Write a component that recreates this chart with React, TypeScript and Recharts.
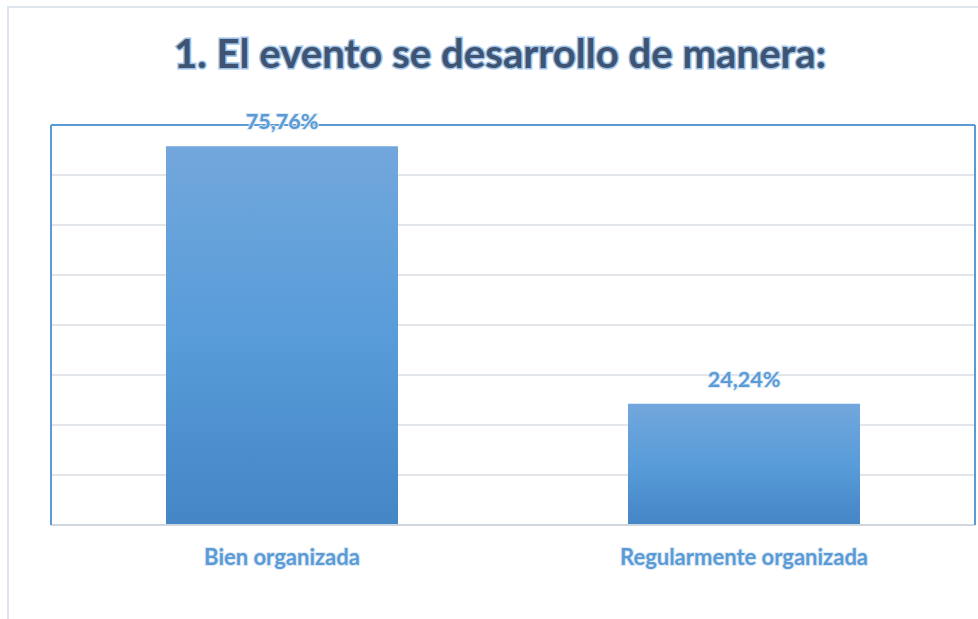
import React from "react";
import {
  Bar,
  BarChart,
  CartesianGrid,
  LabelList,
  ReferenceLine,
  XAxis,
  YAxis,
} from "recharts";

const categories = ["Bien organizada", "Regularmente organizada"];
const percentages = [75.76, 24.24];
const yTicks = [0, 10, 20, 30, 40, 50, 60, 70, 80];

const blue = "#5b9bd5";
const font = "Lato, 'Open Sans', sans-serif";

const rows = categories.map((name, i) => ({ name, value: percentages[i] }));

const fmt = (v: number) => v.toFixed(2).replace(".", ",") + "%";

function ValueLabel(props: any) {
  const { x, y, width, value } = props;
  return (
    <text
      x={x + width / 2}
      y={y - 17}
      textAnchor="middle"
      fill={blue}
      stroke="#dce9f6"
      strokeWidth={2}
      paintOrder="stroke"
      fontFamily={font}
      fontWeight={700}
      fontSize={21.5}
    >
      {fmt(value)}
    </text>
  );
}

function CategoryTick(props: any) {
  const { x, y, payload } = props;
  return (
    <text
      x={x}
      y={y + 32}
      textAnchor="middle"
      fill={blue}
      stroke="#dce9f6"
      strokeWidth={2}
      paintOrder="stroke"
      fontFamily={font}
      fontWeight={700}
      fontSize={22}
    >
      {payload.value}
    </text>
  );
}

const NoTick = () => <g />;

export default function App() {
  return (
    <div style={{ position: "absolute", left: 0, top: 0, width: 978, height: 619, background: "#fff" }}>
      <svg width={978} height={619} style={{ position: "absolute", left: 0, top: 0 }}>
        <line x1={8} y1={7} x2={978} y2={7} stroke="#dfe5ec" strokeWidth={2} />
        <line x1={8} y1={6} x2={8} y2={619} stroke="#dfe5ec" strokeWidth={2} />
        <text
          x={500}
          y={68}
          textAnchor="middle"
          fill="#3f5372"
          stroke="#9fc4e8"
          strokeWidth={3}
          paintOrder="stroke"
          fontFamily={font}
          fontWeight={700}
          fontSize={40}
          textLength={652}
          lengthAdjust="spacingAndGlyphs"
        >
          1. El evento se desarrollo de manera:
        </text>
      </svg>
      <div style={{ position: "absolute", left: 0, top: 0 }}>
        <BarChart
          width={978}
          height={619}
          data={rows}
          margin={{ top: 125, right: 2, left: 50, bottom: 34 }}
        >
          <defs>
            <linearGradient id="barFill" x1="0" y1="0" x2="0" y2="1">
              <stop offset="0%" stopColor="#72a7dc" />
              <stop offset="50%" stopColor="#589cd9" />
              <stop offset="100%" stopColor="#4586c6" />
            </linearGradient>
          </defs>
          <CartesianGrid vertical={false} stroke="#d9dde3" strokeWidth={1.5} />
          <XAxis
            dataKey="name"
            height={60}
            axisLine={{ stroke: "#d0d6de", strokeWidth: 2 }}
            tickLine={false}
            tick={<CategoryTick />}
            interval={0}
          />
          <YAxis
            width={1}
            domain={[0, 80]}
            ticks={yTicks}
            tick={NoTick}
            tickLine={false}
            axisLine={{ stroke: blue, strokeWidth: 2 }}
          />
          <YAxis
            yAxisId="right"
            orientation="right"
            width={1}
            domain={[0, 80]}
            ticks={yTicks}
            tick={NoTick}
            tickLine={false}
            axisLine={{ stroke: blue, strokeWidth: 2 }}
          />
          <ReferenceLine y={80} stroke={blue} strokeWidth={2} />
          <Bar dataKey="value" fill="url(#barFill)" barSize={232} isAnimationActive={false}>
            <LabelList dataKey="value" content={<ValueLabel />} />
          </Bar>
        </BarChart>
      </div>
    </div>
  );
}
